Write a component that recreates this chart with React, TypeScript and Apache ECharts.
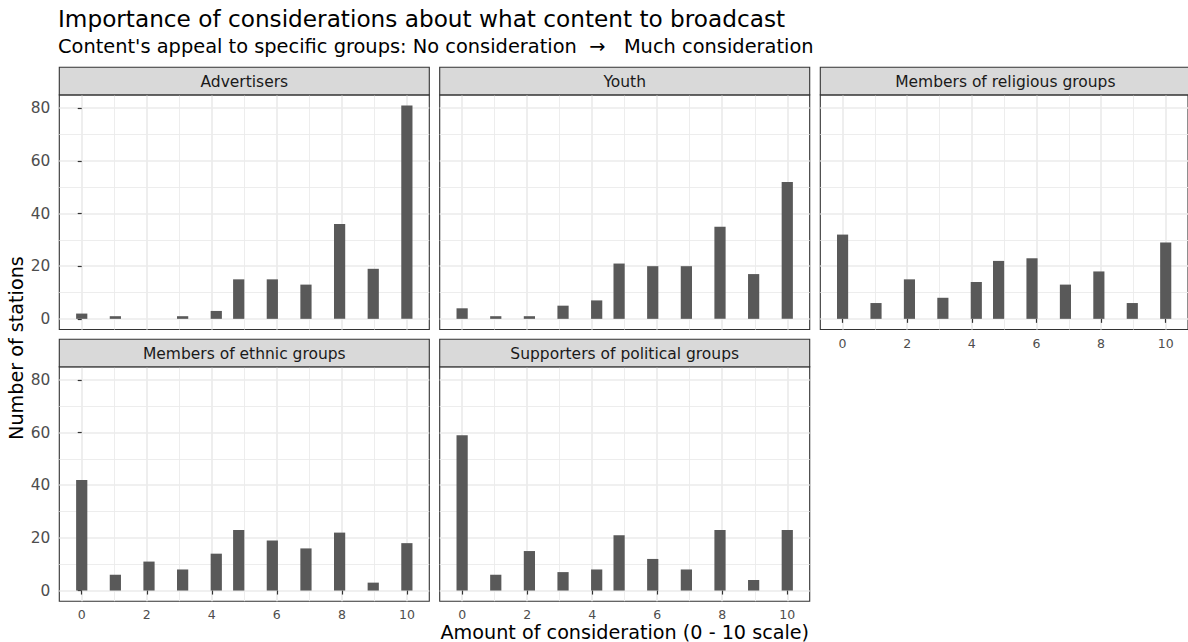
import React, { useEffect, useRef } from 'react';
import * as echarts from 'echarts';

// Survey answers: consideration score (0-10) and number of stations per score
const scores = [0, 1, 2, 3, 4, 5, 6, 7, 8, 9, 10];
const advertisers = [2, 1, 0, 1, 3, 15, 15, 13, 36, 19, 81];
const youth = [4, 1, 1, 5, 7, 21, 20, 20, 35, 17, 52];
const religious = [32, 6, 15, 8, 14, 22, 23, 13, 18, 6, 29];
const ethnic = [42, 6, 11, 8, 14, 23, 19, 16, 22, 3, 18];
const political = [59, 6, 15, 7, 8, 21, 12, 8, 23, 4, 23];

const facetNames = [
  'Advertisers',
  'Youth',
  'Members of religious groups',
  'Members of ethnic groups',
  'Supporters of political groups',
];
const facetCounts = [advertisers, youth, religious, ethnic, political];

const yTicks = [0, 20, 40, 60, 80];
const yMinorTicks = [10, 30, 50, 70];
const xTicks = [0, 2, 4, 6, 8, 10];
const xMinorTicks = [1, 3, 5, 7, 9];

const NB = '\u00A0';
const titleText = 'Importance of considerations about what content to broadcast';
const subtitleText =
  "Content's appeal to specific groups: No consideration" + NB + NB + '\u2192' + NB + NB + NB + 'Much consideration';
const xTitleText = 'Amount of consideration (0 - 10 scale)';
const yTitleText = 'Number of stations';

// Histogram binning: 30 bins spanning the score range, right-closed
const BINS = 30;
const scoreMin = 0;
const scoreMax = 10;
const binW = (scoreMax - scoreMin) / (BINS - 1);
const binCenter = (v: number) => {
  const idx = Math.ceil((v - scoreMin - binW / 2) / binW - 1e-9);
  return scoreMin + idx * binW;
};

const FONT = 'DejaVu Sans';
const BAR = '#595959';
const GRID = '#EBEBEB';
const DARK = '#333333';

// Panel layout (pixels)
const colLeft = [59.3, 439.7, 820.3];
const panelW = 370;
const stripTop = [67.3, 339.3];
const stripH = 27.6;
const plotTop = [94.9, 366.6];
const plotH = 234.6;

function buildOption() {
  const maxCount = Math.max(...facetCounts.map((c) => Math.max(...c)));
  const yMin = -0.05 * maxCount;
  const yMax = maxCount * 1.05;
  const xLo = binCenter(scoreMin) - binW / 2;
  const xHi = binCenter(scoreMax) + binW / 2;
  const xPad = 0.05 * (xHi - xLo);
  const xMin = xLo - xPad;
  const xMax = xHi + xPad;

  const grid: any[] = [];
  const xAxis: any[] = [];
  const yAxis: any[] = [];
  const series: any[] = [];
  const graphic: any[] = [];

  facetNames.forEach((name, i) => {
    const row = Math.floor(i / 3);
    const col = i % 3;
    const showY = col === 0;
    const showX = i >= 2;
    grid.push({
      left: colLeft[col],
      top: plotTop[row],
      width: panelW,
      height: plotH,
      show: true,
      borderColor: DARK,
      borderWidth: 1.1,
      backgroundColor: 'transparent',
    });
    // major x axis
    xAxis.push({
      type: 'value',
      gridIndex: i,
      position: 'bottom',
      min: xMin,
      max: xMax,
      axisLine: { show: false },
      axisTick: {
        show: showX,
        customValues: xTicks,
        length: 4,
        lineStyle: { color: DARK, width: 1.2 },
      },
      axisLabel: {
        show: showX,
        customValues: xTicks,
        margin: 7,
        lineHeight: 13,
        color: '#4D4D4D',
        fontFamily: FONT,
        fontSize: 12.5,
      },
      splitLine: { show: true, lineStyle: { color: GRID, width: 1.7 } },
    });
    // minor x grid lines
    xAxis.push({
      type: 'value',
      gridIndex: i,
      position: 'top',
      min: xMin,
      max: xMax,
      axisLine: { show: false },
      axisTick: { show: false, customValues: xMinorTicks },
      axisLabel: { show: false, customValues: xMinorTicks },
      splitLine: { show: true, lineStyle: { color: GRID, width: 0.9 } },
    });
    yAxis.push({
      type: 'value',
      gridIndex: i,
      position: 'left',
      min: yMin,
      max: yMax,
      axisLine: { show: false },
      axisTick: {
        show: showY,
        customValues: yTicks,
        length: 4,
        lineStyle: { color: DARK, width: 1.2 },
      },
      axisLabel: {
        show: showY,
        customValues: yTicks,
        margin: 9,
        color: '#4D4D4D',
        fontFamily: FONT,
        fontSize: 15.4,
      },
      splitLine: { show: true, lineStyle: { color: GRID, width: 1.7 } },
    });
    yAxis.push({
      type: 'value',
      gridIndex: i,
      position: 'right',
      min: yMin,
      max: yMax,
      axisLine: { show: false },
      axisTick: { show: false, customValues: yMinorTicks },
      axisLabel: { show: false, customValues: yMinorTicks },
      splitLine: { show: true, lineStyle: { color: GRID, width: 0.9 } },
    });

    const data = scores.map((s, k) => [binCenter(s), facetCounts[i][k]]);
    series.push({
      type: 'custom',
      name: name,
      xAxisIndex: 2 * i,
      yAxisIndex: 2 * i,
      data,
      renderItem: (_params: any, api: any) => {
        const x = api.value(0);
        const y = api.value(1);
        if (!y) return null;
        const p0 = api.coord([x - binW / 2, y]);
        const p1 = api.coord([x + binW / 2, 0]);
        return {
          type: 'rect',
          shape: { x: p0[0], y: p0[1], width: p1[0] - p0[0], height: p1[1] - p0[1] },
          style: { fill: BAR },
        };
      },
    });

    // facet strip
    graphic.push({
      type: 'rect',
      shape: { x: colLeft[col], y: stripTop[row], width: panelW, height: stripH },
      style: { fill: '#D9D9D9', stroke: DARK, lineWidth: 1.1 },
      z: 10,
    });
    graphic.push({
      type: 'text',
      x: colLeft[col] + panelW / 2,
      y: stripTop[row] + stripH / 2 + 0.5,
      style: {
        text: name,
        fill: '#1A1A1A',
        font: `15.5px "${FONT}"`,
        align: 'center',
        verticalAlign: 'middle',
      },
      z: 11,
    });
  });

  graphic.push(
    {
      type: 'text',
      x: 58,
      y: 18,
      style: { text: titleText, fill: '#000', font: `23.2px "${FONT}"`, align: 'left', verticalAlign: 'middle' },
    },
    {
      type: 'text',
      x: 58,
      y: 46,
      style: { text: subtitleText, fill: '#000', font: `19.4px "${FONT}"`, align: 'left', verticalAlign: 'middle' },
    },
    {
      type: 'text',
      x: (colLeft[0] + colLeft[2] + panelW) / 2,
      y: 632,
      style: {
        text: xTitleText,
        fill: '#000',
        font: `19.2px "${FONT}"`,
        lineHeight: 19,
        align: 'center',
        verticalAlign: 'middle',
      },
    },
    {
      type: 'text',
      x: 16,
      y: (plotTop[0] + plotTop[1] + plotH) / 2,
      rotation: Math.PI / 2,
      style: { text: yTitleText, fill: '#000', font: `19.2px "${FONT}"`, align: 'center', verticalAlign: 'middle' },
    }
  );

  return {
    animation: false,
    backgroundColor: '#ffffff',
    textStyle: { fontFamily: FONT },
    grid,
    xAxis,
    yAxis,
    series,
    graphic,
  };
}

export default function App() {
  const ref = useRef<HTMLDivElement>(null);
  useEffect(() => {
    if (!ref.current) return;
    const chart = echarts.init(ref.current, null, { renderer: 'svg' });
    chart.setOption(buildOption() as any);
    return () => chart.dispose();
  }, []);
  return (
    <div
      ref={ref}
      style={{ position: 'absolute', left: 0, top: 0, width: 1188, height: 642, background: '#fff' }}
    />
  );
}
